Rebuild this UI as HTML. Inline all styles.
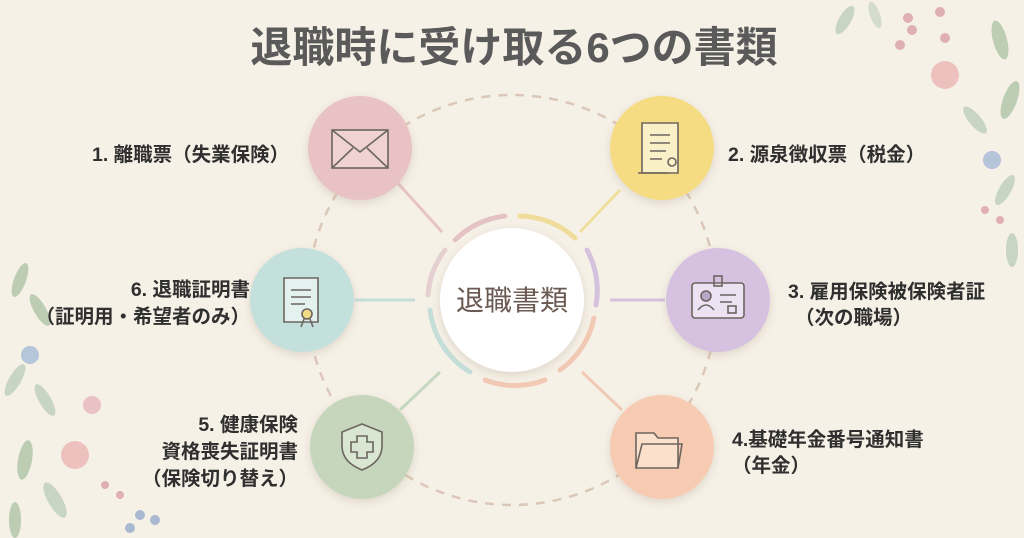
<!DOCTYPE html>
<html><head><meta charset="utf-8"><style>
html,body{margin:0;padding:0;width:1024px;height:538px;overflow:hidden;background:#f6f1e7}
svg{display:block}
text{font-family:"Liberation Sans","Noto Sans CJK JP",sans-serif}
</style></head><body>
<svg width="1024" height="538" viewBox="0 0 1024 538">
<defs>
<filter id="sh" x="-30%" y="-30%" width="160%" height="160%"><feDropShadow dx="0" dy="3" stdDeviation="5" flood-color="#b0a090" flood-opacity="0.35"/></filter>
</defs>
<rect width="1024" height="538" fill="#f6f1e7"/>
<g opacity="0.75">
<ellipse cx="845" cy="20" rx="6" ry="16" fill="#b9cbb8" transform="rotate(30 845 20)"/>
<ellipse cx="875" cy="15" rx="5" ry="14" fill="#c9d6c5" transform="rotate(-20 875 15)"/>
<circle cx="908" cy="18" r="5" fill="#d79aa0"/><circle cx="912" cy="30" r="5" fill="#d79aa0"/><circle cx="900" cy="45" r="5" fill="#d79aa0"/><circle cx="945" cy="38" r="5" fill="#d79aa0"/><circle cx="940" cy="12" r="5" fill="#d79aa0"/>
<circle cx="945" cy="75" r="14" fill="#eab0b0"/>
<ellipse cx="1000" cy="40" rx="7" ry="20" fill="#a9c0a3" transform="rotate(-15 1000 40)"/>
<ellipse cx="1010" cy="100" rx="7" ry="20" fill="#a9c0a3" transform="rotate(20 1010 100)"/>
<ellipse cx="975" cy="120" rx="6" ry="17" fill="#b9cbb8" transform="rotate(-40 975 120)"/>
<circle cx="992" cy="160" r="9" fill="#9fb6d6"/>
<circle cx="985" cy="210" r="4" fill="#d79aa0"/><circle cx="1000" cy="220" r="4" fill="#d79aa0"/>
<ellipse cx="1005" cy="190" rx="6" ry="17" fill="#b9cbb8" transform="rotate(30 1005 190)"/>
<ellipse cx="1012" cy="250" rx="6" ry="17" fill="#b9cbb8"/>
<ellipse cx="20" cy="280" rx="6" ry="18" fill="#a9c0a3" transform="rotate(20 20 280)"/>
<ellipse cx="40" cy="310" rx="6" ry="18" fill="#a9c0a3" transform="rotate(-30 40 310)"/>
<circle cx="30" cy="355" r="9" fill="#9fb6d6"/>
<ellipse cx="15" cy="380" rx="6" ry="18" fill="#b9cbb8" transform="rotate(30 15 380)"/>
<ellipse cx="45" cy="400" rx="6" ry="18" fill="#b9cbb8" transform="rotate(-30 45 400)"/>
<circle cx="92" cy="405" r="9" fill="#e6b0b8"/>
<circle cx="75" cy="455" r="14" fill="#eab0b0"/>
<ellipse cx="25" cy="460" rx="7" ry="20" fill="#a9c0a3" transform="rotate(10 25 460)"/>
<ellipse cx="55" cy="500" rx="7" ry="20" fill="#b9cbb8" transform="rotate(-30 55 500)"/>
<circle cx="105" cy="485" r="4" fill="#d79aa0"/><circle cx="120" cy="495" r="4" fill="#d79aa0"/>
<circle cx="140" cy="515" r="5" fill="#8fa6c8"/><circle cx="155" cy="520" r="5" fill="#8fa6c8"/><circle cx="130" cy="528" r="5" fill="#8fa6c8"/>
<ellipse cx="15" cy="520" rx="6" ry="18" fill="#a9c0a3"/>
</g>
<text x="514" y="62" text-anchor="middle" font-size="42" font-weight="bold" fill="#5a5a5a">退職時に受け取る6つの書類</text>
<circle cx="512" cy="300" r="205" fill="none" stroke="#dcc8b8" stroke-width="2.5" stroke-dasharray="9 8"/>
<g fill="none" stroke-width="5" stroke-linecap="round" opacity="0.8">
<path d="M455 240 A84 84 0 0 1 505 216" stroke="#e2b8bc"/>
<path d="M520 216 A84 84 0 0 1 575 238" stroke="#efd98a"/>
<path d="M587 250 A84 84 0 0 1 596 305" stroke="#cdb8db"/>
<path d="M594 318 A84 84 0 0 1 560 370" stroke="#f0c0a8"/>
<path d="M545 380 A84 84 0 0 1 485 380" stroke="#f0c0a8"/>
<path d="M470 372 A84 84 0 0 1 430 310" stroke="#b8dad6"/>
<path d="M428 295 A84 84 0 0 1 445 250" stroke="#e2c8cc"/>
</g>
<g fill="none" stroke-width="3" opacity="0.8">
<path d="M395 180 L442 232" stroke="#e2b8bc"/>
<path d="M620 190 L580 232" stroke="#efd98a"/>
<path d="M665 300 L610 300" stroke="#cdb8db"/>
<path d="M622 410 L582 372" stroke="#f0c0a8"/>
<path d="M400 410 L440 372" stroke="#b9d3b4"/>
<path d="M355 300 L415 300" stroke="#b8dad6"/>
</g>
<circle cx="512" cy="300" r="72" fill="#fff" filter="url(#sh)"/>
<text x="512" y="310" text-anchor="middle" font-size="28" fill="#6a5a52">退職書類</text>
<g filter="url(#sh)">
<circle cx="360" cy="148" r="52" fill="#e8c2c4"/>
<circle cx="662" cy="148" r="52" fill="#f5dc82"/>
<circle cx="718" cy="300" r="52" fill="#d6c2e0"/>
<circle cx="662" cy="447" r="52" fill="#f6cbb2"/>
<circle cx="362" cy="447" r="52" fill="#c5d6bd"/>
<circle cx="302" cy="300" r="52" fill="#c3e0dc"/>
</g>
<g fill="none" stroke="#6c6560" stroke-width="1.6">
<rect x="332" y="130" width="56" height="38" fill="#f0d2d2"/><path d="M332 130 L360 152 L388 130 M332 168 L353 148 M388 168 L367 148"/>
<path d="M642 123 h36 v50 h-36 z" fill="#faf0c8"/><path d="M650 135h20M650 143h20M650 151h16M650 159h12"/><circle cx="672" cy="162" r="4"/><path d="M638 173 h30"/>
<rect x="692" y="283" width="52" height="35" rx="3" fill="#ece2f2"/><rect x="714" y="276" width="8" height="10"/><circle cx="706" cy="296" r="5" fill="#b8a8c8"/><path d="M698 310 q8 -10 16 0"/><path d="M720 295h16M720 302h12"/><rect x="728" y="306" width="8" height="7"/>
<path d="M636 433 h18 l4 5 h20 v30 h-42 z" fill="#fbe0cc"/><path d="M636 468 l6 -24 h40 l-4 24"/>
<path d="M362 424 l20 8 v14 q0 16 -20 24 q-20 -8 -20 -24 v-14 z" fill="#d8e6d2"/><path d="M357 436 h10 v6 h6 v10 h-6 v6 h-10 v-6 h-6 v-10 h6 z"/>
<path d="M284 278 h34 v44 h-34 z" fill="#e4f2ef"/><path d="M291 290h20M291 297h20M291 304h14"/><circle cx="307" cy="314" r="5" fill="#f0dc88"/><path d="M304 319 l-3 8 M310 319 l3 8"/>
</g>
<g font-size="19.5" fill="#2f2f2f" font-weight="bold">
<text x="92" y="161">1. 離職票（失業保険）</text>
<text x="728" y="161">2. 源泉徴収票（税金）</text>
<text x="788" y="298">3. 雇用保険被保険者証</text>
<text x="795" y="324">（次の職場）</text>
<text x="732" y="446">4.基礎年金番号通知書</text>
<text x="732" y="472">（年金）</text>
<text x="298" y="431" text-anchor="end">5. 健康保険</text>
<text x="298" y="458" text-anchor="end">資格喪失証明書</text>
<text x="298" y="485" text-anchor="end">（保険切り替え）</text>
<text x="250" y="296" text-anchor="end">6. 退職証明書</text>
<text x="250" y="323" text-anchor="end">（証明用・希望者のみ）</text>
</g>
</svg>
</body></html>
